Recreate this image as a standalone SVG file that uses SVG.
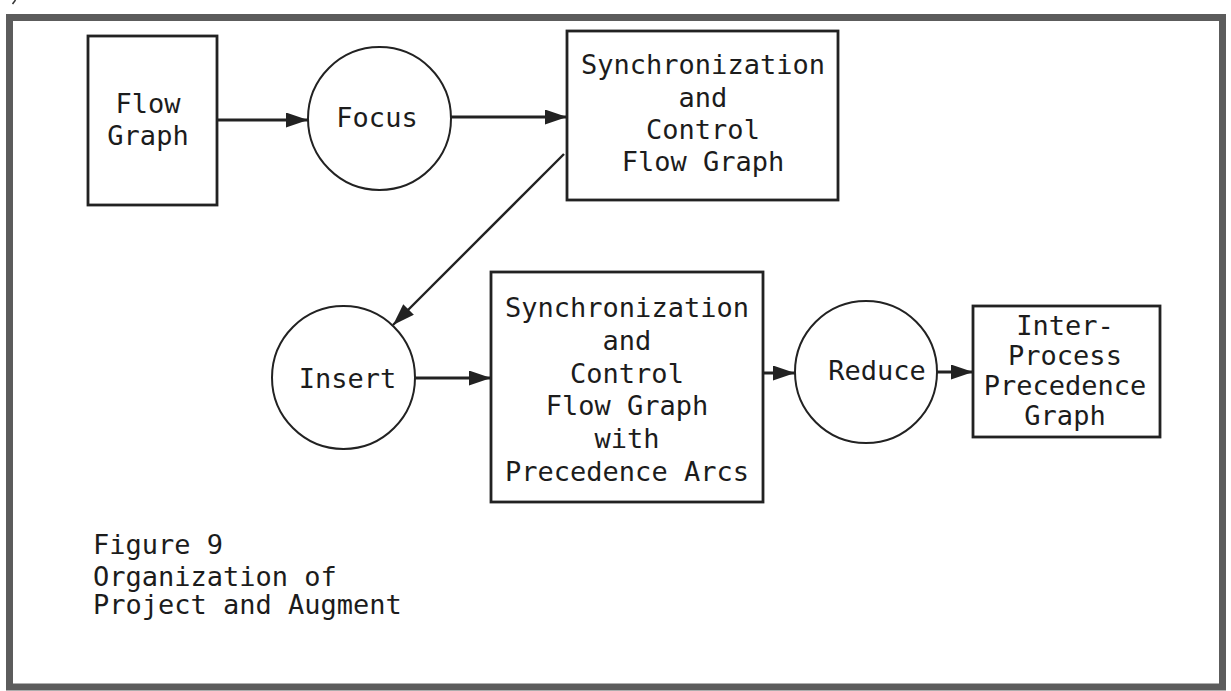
<svg xmlns="http://www.w3.org/2000/svg" width="1231" height="691" viewBox="0 0 1231 691">
  <style>
    .frame { fill: none; stroke: #5c5c5c; stroke-width: 7; }
    .box { fill: #ffffff; stroke: #222222; stroke-width: 2.8; }
    .proc { fill: #ffffff; stroke: #222222; stroke-width: 2; }
    .lbl { font-family: "DejaVu Sans Mono", "Liberation Mono", monospace; font-size: 27px; fill: #1c1c1c; text-anchor: middle; }
    .cap { font-family: "DejaVu Sans Mono", "Liberation Mono", monospace; font-size: 27px; fill: #1c1c1c; text-anchor: start; }
    .arc { fill: none; stroke: #222222; stroke-width: 3; }
    .diag { fill: none; stroke: #222222; stroke-width: 2.4; }
  </style>
  <defs>
    <marker id="head" markerUnits="userSpaceOnUse" markerWidth="24" markerHeight="16" refX="22" refY="7.5" orient="auto">
      <path d="M0,0 L22,7.5 L0,15 z" fill="#222222"/>
    </marker>
  </defs>

  <rect width="1231" height="691" fill="#ffffff"/>

  <!-- page frame -->
  <rect class="frame" x="9.5" y="17.5" width="1213" height="669.5"/>
  <line x1="12.5" y1="4" x2="15.5" y2="0" stroke="#333333" stroke-width="1.5"/>

  <!-- connectors -->
  <g id="connectors">
    <line class="arc" x1="217" y1="120" x2="308" y2="120" marker-end="url(#head)"/>
    <line class="arc" x1="451" y1="117" x2="567" y2="117" marker-end="url(#head)"/>
    <line class="diag" x1="564" y1="154" x2="393" y2="325" marker-end="url(#head)"/>
    <line class="arc" x1="415" y1="378" x2="491" y2="378" marker-end="url(#head)"/>
    <line class="arc" x1="763" y1="373" x2="795" y2="373" marker-end="url(#head)"/>
    <line class="arc" x1="937" y1="372" x2="973" y2="372" marker-end="url(#head)"/>
  </g>

  <g id="flow-graph">
    <rect class="box" x="88" y="36" width="129" height="169"/>
    <text class="lbl" x="148" y="113">Flow</text>
    <text class="lbl" x="148" y="145">Graph</text>
  </g>

  <g id="focus">
    <circle class="proc" cx="379.5" cy="118.5" r="71.5"/>
    <text class="lbl" x="377" y="127">Focus</text>
  </g>

  <g id="sync-control-graph">
    <rect class="box" x="567" y="31" width="271" height="169"/>
    <text class="lbl" x="703" y="74">Synchronization</text>
    <text class="lbl" x="703" y="106.5">and</text>
    <text class="lbl" x="703" y="138.5">Control</text>
    <text class="lbl" x="703" y="171">Flow Graph</text>
  </g>

  <g id="insert">
    <circle class="proc" cx="343.5" cy="377.5" r="71.5"/>
    <text class="lbl" x="347.5" y="388">Insert</text>
  </g>

  <g id="sync-control-graph-arcs">
    <rect class="box" x="491" y="272" width="272" height="230"/>
    <text class="lbl" x="627" y="317">Synchronization</text>
    <text class="lbl" x="627" y="350">and</text>
    <text class="lbl" x="627" y="382.5">Control</text>
    <text class="lbl" x="627" y="415">Flow Graph</text>
    <text class="lbl" x="627" y="448">with</text>
    <text class="lbl" x="627" y="481">Precedence Arcs</text>
  </g>

  <g id="reduce">
    <circle class="proc" cx="866" cy="372" r="71"/>
    <text class="lbl" x="877" y="380">Reduce</text>
  </g>

  <g id="inter-process-graph">
    <rect class="box" x="973" y="306" width="187" height="131"/>
    <text class="lbl" x="1065" y="335">Inter-</text>
    <text class="lbl" x="1065" y="365">Process</text>
    <text class="lbl" x="1065" y="395">Precedence</text>
    <text class="lbl" x="1065" y="425">Graph</text>
  </g>

  <g id="caption">
    <text class="cap" x="93" y="554">Figure 9</text>
    <text class="cap" x="93" y="586">Organization of</text>
    <text class="cap" x="93" y="614">Project and Augment</text>
  </g>
</svg>
